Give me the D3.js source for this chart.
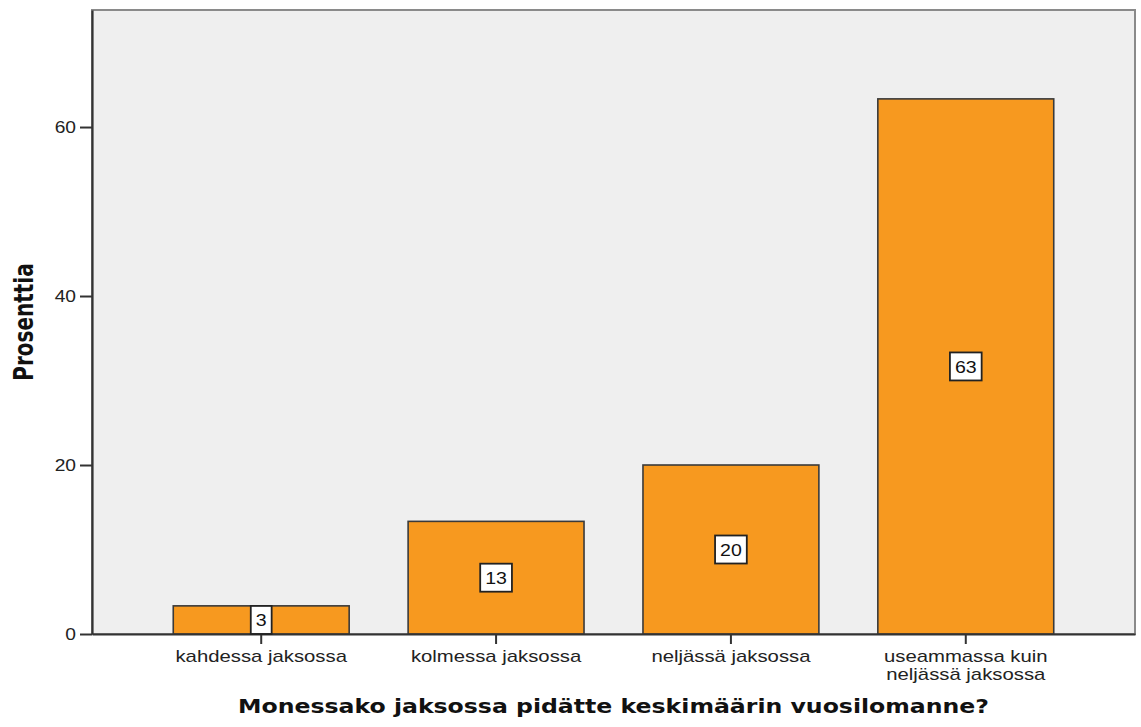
<!DOCTYPE html>
<html>
<head>
<meta charset="utf-8">
<script src="https://cdn.jsdelivr.net/npm/d3@7"></script>
<style>
  body { margin: 0; background: #fff; }
  text { font-family: "Liberation Sans", Arial, sans-serif; }
</style>
</head>
<body>
<div id="chart"></div>
<script>
// data
var categories = ["kahdessa jaksossa", "kolmessa jaksossa", "neljässä jaksossa", "useammassa kuin neljässä jaksossa"];
var values = [3.33, 13.33, 20.0, 63.33];
var valueLabels = ["3", "13", "20", "63"];
var yTicks = [0, 20, 40, 60];

var width = 1141,
    height = 727,
    margin = { top: 10, right: 6, bottom: 93, left: 92 };

// the original picture is a bit wider than its fonts, so text gets stretched sideways
var SX = 1.2;

var svg = d3.select("#chart")
    .append("svg")
        .attr("width", width)
        .attr("height", height);

var plotW = width - margin.left - margin.right,
    plotH = height - margin.top - margin.bottom;

var g = svg.append("g")
    .attr("transform", "translate(" + margin.left + "," + margin.top + ")");

/* scales */
var x = d3.scaleBand()
    .domain(categories)
    .range([0, plotW])
    .paddingInner(0.251)
    .paddingOuter(0.346);

var y = d3.scaleLinear()
    .domain([0, 73.85])
    .range([plotH, 0]);

/* background + frame */
g.append("rect")
    .attr("width", plotW)
    .attr("height", plotH)
    .attr("fill", "#efefef")
    .attr("stroke", "#8a8a8a")
    .attr("stroke-width", 2);

/* bars */
g.selectAll(".bar")
    .data(values)
    .enter().append("rect")
        .attr("class", "bar")
        .attr("x", function(d, i) { return x(categories[i]); })
        .attr("y", function(d) { return y(d); })
        .attr("width", x.bandwidth())
        .attr("height", function(d) { return plotH - y(d); })
        .attr("fill", "#f7991f")
        .attr("stroke", "#3a3a3a")
        .attr("stroke-width", 1.6);

/* axes */
var yAxis = g.append("g")
    .call(d3.axisLeft(y).tickValues(yTicks).tickSize(12).tickSizeOuter(0));
yAxis.select(".domain").attr("stroke", "#333").attr("stroke-width", 2.2);
yAxis.selectAll(".tick line").attr("stroke", "#333").attr("stroke-width", 2);
yAxis.selectAll(".tick text")
    .attr("x", 0)
    .attr("transform", "translate(-16,0) scale(" + SX + ",1)")
    .attr("font-size", 16)
    .attr("fill", "#222")
    .style("font-family", "Liberation Sans, Arial, sans-serif");

var xAxis = g.append("g")
    .attr("transform", "translate(0," + plotH + ")")
    .call(d3.axisBottom(x).tickSize(10).tickSizeOuter(0).tickFormat(""));
xAxis.select(".domain").attr("stroke", "#333").attr("stroke-width", 2.2);
xAxis.selectAll(".tick line").attr("stroke", "#333").attr("stroke-width", 2);

/* x labels (wrapped like the original) */
var wrapped = {
    "useammassa kuin neljässä jaksossa": ["useammassa kuin", "neljässä jaksossa"]
};
categories.forEach(function(c) {
    var lines = wrapped[c] || [c];
    lines.forEach(function(l, j) {
        g.append("text")
            .attr("transform", "translate(" + (x(c) + x.bandwidth() / 2) + "," + (plotH + 28 + j * 18) + ") scale(1.27,1)")
            .attr("text-anchor", "middle")
            .attr("font-size", 16)
            .attr("fill", "#222")
            .text(l);
    });
});

/* value labels */
var lbl = g.selectAll(".vlabel")
    .data(values)
    .enter().append("g")
        .attr("class", "vlabel")
        .attr("transform", function(d, i) {
            return "translate(" + (x(categories[i]) + x.bandwidth() / 2) + "," + (y(d / 2)) + ")";
        });

lbl.append("text")
    .attr("text-anchor", "middle")
    .attr("dy", "0.36em")
    .attr("font-size", 17)
    .attr("transform", "scale(1.15,1)")
    .attr("fill", "#111")
    .text(function(d, i) { return valueLabels[i]; });

lbl.each(function() {
    var node = d3.select(this);
    var bb = node.select("text").node().getBBox();
    var w = bb.width * 1.15 + 10;
    node.insert("rect", "text")
        .attr("x", -w / 2)
        .attr("y", -14)
        .attr("width", w)
        .attr("height", 28)
        .attr("fill", "#fff")
        .attr("stroke", "#222")
        .attr("stroke-width", 1.8);
});

/* axis titles */
svg.append("text")
    .attr("transform", "translate(" + (margin.left + plotW / 2) + ",713) scale(1.18,1)")
    .attr("text-anchor", "middle")
    .attr("font-size", 20)
    .attr("font-weight", "bold")
    .style("font-family", "DejaVu Sans, sans-serif")
    .attr("fill", "#111")
    .text("Monessako jaksossa pidätte keskimäärin vuosilomanne?");

svg.append("text")
    .attr("transform", "translate(33," + (margin.top + plotH / 2) + ") rotate(-90) scale(1,1.3)")
    .attr("text-anchor", "middle")
    .attr("font-size", 20)
    .attr("font-weight", "bold")
    .style("font-family", "DejaVu Sans, sans-serif")
    .attr("fill", "#111")
    .text("Prosenttia");
</script>
</body>
</html>
